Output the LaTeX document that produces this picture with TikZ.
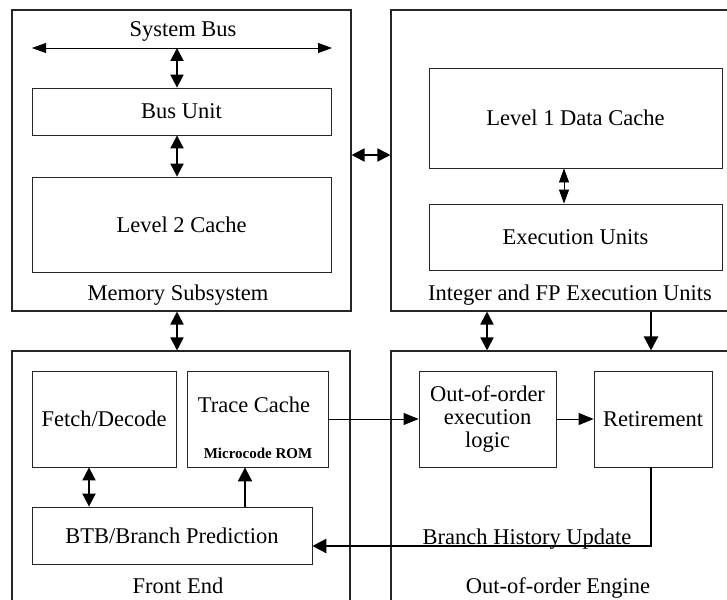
\documentclass[tikz,border=0pt]{standalone}
\usepackage{fontspec}
\setmainfont{Liberation Serif}
\usetikzlibrary{arrows.meta}
\begin{document}
\begin{tikzpicture}[x=1pt, y=-1pt,
  font=\fontsize{22.5}{23}\selectfont,
  outer/.style={draw=black!85, line width=1.1pt, inner sep=0pt},
  box/.style={draw=black!85, line width=0.8pt, inner sep=0pt, align=center},
  lbl/.style={anchor=base, inner sep=0pt},
  dbl/.style={line width=1.9pt,
    {Triangle[length=13pt,width=13pt]}-{Triangle[length=13pt,width=13pt]}},
  thindbl/.style={line width=0.8pt,
    {Triangle[length=14pt,width=10pt]}-{Triangle[length=14pt,width=10pt]}},
  flow/.style={line width=0.8pt, -{Triangle[length=15pt,width=12pt]}},
  heavy/.style={line width=2.4pt, -{Triangle[length=14pt,width=14pt]}}]
\useasboundingbox (0,0) rectangle (727,599);

% the four functional blocks
\node[outer, minimum width=339pt, minimum height=301pt] (mem) at (181.5,160.5) {};
\node[outer, minimum width=354pt, minimum height=301pt] (int) at (568,160.5) {};
\node[outer, minimum width=338pt, minimum height=261pt] (fe)  at (181,481.5) {};
\node[outer, minimum width=354pt, minimum height=261pt] (ooo) at (568,481.5) {};

% memory subsystem
\coordinate (sbl) at (32,48);
\coordinate (sbr) at (332,48);
\node[lbl] (sbus) at (183,37) {System Bus};
\node[box, minimum width=299pt, minimum height=47pt] (bus) at (181.5,111.5) {Bus Unit};
\node[box, minimum width=299pt, minimum height=95pt] (l2)  at (181.5,224.5) {Level 2 Cache};
\node[lbl] (memlbl) at (178,300) {Memory Subsystem};

% integer and FP execution units
\node[box, minimum width=293pt, minimum height=100pt] (l1)  at (575.5,118) {Level 1 Data Cache};
\node[box, minimum width=293pt, minimum height=66pt]  (exu) at (575.5,237) {Execution Units};
\node[lbl] (intlbl) at (570,300) {Integer and FP Execution Units};

% front end
\node[box, minimum width=144pt, minimum height=96pt] (fetch) at (104,419) {Fetch/Decode};
\node[box, minimum width=141pt, minimum height=96pt] (trace) at (257.5,419) {};
\node[lbl] (tracelbl) at (254,412) {Trace Cache};
\node[lbl, font=\fontsize{15}{16}\selectfont\bfseries] (ucode) at (258,458) {Microcode ROM};
\node[box, minimum width=280pt, minimum height=57pt] (btb) at (172,535.5) {BTB/Branch Prediction};
\node[lbl] (felbl) at (178,593) {Front End};

% out-of-order engine
\node[box, minimum width=137pt, minimum height=96pt] (logic) at (487.5,419)
  {Out-of-order\\execution\\logic};
\node[box, minimum width=118pt, minimum height=96pt] (retire) at (653,419) {Retirement};
\node[lbl] (bhu) at (527,544) {Branch History Update};
\node[lbl] (ooolbl) at (558,593) {Out-of-order Engine};

% connectors
\draw[thindbl] (sbl) -- (sbr);
\draw[dbl] (bus.north -| 177,0) -- (sbl -| 177,0);
\draw[dbl] (bus.south -| 177,0) -- (l2.north -| 177,0);
\draw[dbl] (mem.east |- 0,155) -- (int.west |- 0,155);
\draw[thindbl] (l1.south -| 564,0) -- (exu.north -| 564,0);
\draw[dbl] (mem.south -| 177,0) -- (fe.north -| 177,0);
\draw[dbl] (int.south -| 487,0) -- (ooo.north -| 487,0);
\draw[heavy] (int.south -| 651,0) -- (ooo.north -| 651,0);
\draw[dbl] (fetch.south -| 89,0) -- (btb.north -| 89,0);
\draw[heavy, line width=2pt] (btb.north -| 245,0) -- (trace.south -| 245,0);
\draw[flow] (trace.east) -- (logic.west);
\draw[flow] (logic.east) -- (retire.west);
\draw[heavy, line width=2.8pt] (retire.south -| 651,0) -- (651,546) -- (btb.east |- 0,546);
\end{tikzpicture}
\end{document}
